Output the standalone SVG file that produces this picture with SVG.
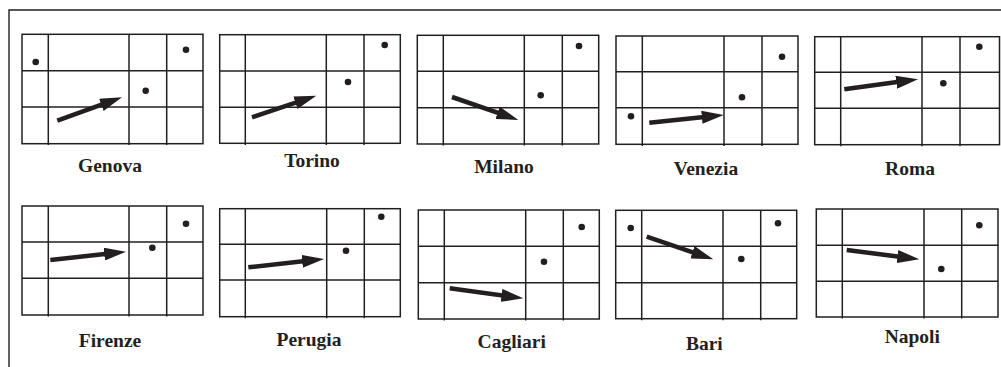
<svg xmlns="http://www.w3.org/2000/svg" width="1001" height="367" viewBox="0 0 1001 367">
<defs>
<style>
.frame{fill:none;stroke:#231f20;stroke-width:1.4}
.grid{fill:none;stroke:#231f20;stroke-width:1.5}
.dot{fill:#231f20}
.arr{fill:none;stroke:#231f20;stroke-width:4.5;marker-end:url(#head)}
.lbl{font-family:"Liberation Serif","Times New Roman",serif;font-weight:bold;font-size:19.5px;fill:#231f20;text-anchor:middle}
</style>
<marker id="head" viewBox="0 -6.5 22 13" refX="12" refY="0" markerWidth="22" markerHeight="13" markerUnits="userSpaceOnUse" orient="auto">
<path d="M0,-6.5 L22,0 L0,6.5 Z" fill="#231f20"/>
</marker>
</defs>
<rect width="1001" height="367" fill="#ffffff"/>
<path class="frame" d="M9,367 V10 H1001"/>

<g id="genova">
<rect class="grid" x="22" y="34.3" width="181" height="109.4"/>
<path class="grid" d="M48.3,34.3 V145 M129,34.3 V145 M166.7,34.3 V145 M22,70.7 H203 M22,107 H203"/>
<circle class="dot" cx="35.7" cy="62" r="3.3"/>
<circle class="dot" cx="186" cy="49.7" r="3.3"/>
<circle class="dot" cx="145.7" cy="90.7" r="3.3"/>
<text class="lbl" x="110" y="171.7">Genova</text>
</g>

<g id="torino">
<rect class="grid" x="219.7" y="34.7" width="180.6" height="108.6"/>
<path class="grid" d="M245.3,34.7 V145 M326.3,34.7 V145 M364,34.7 V145 M219.7,71 H400.3 M219.7,107.3 H400.3"/>
<circle class="dot" cx="384.7" cy="45" r="3.3"/>
<circle class="dot" cx="348" cy="82" r="3.3"/>
<text class="lbl" x="312" y="166.7">Torino</text>
</g>

<g id="milano">
<rect class="grid" x="417.3" y="35.3" width="181.4" height="108.7"/>
<path class="grid" d="M443.3,35.3 V145.5 M524.3,35.3 V145.5 M562.3,35.3 V145.5 M417.3,71.3 H598.7 M417.3,107.7 H598.7"/>
<circle class="dot" cx="579" cy="46" r="3.3"/>
<circle class="dot" cx="540.7" cy="95.3" r="3.3"/>
<text class="lbl" x="504" y="173.3">Milano</text>
</g>

<g id="venezia">
<rect class="grid" x="616" y="36" width="182" height="108.3"/>
<path class="grid" d="M642.3,36 V146 M724,36 V146 M762,36 V146 M616,71.7 H798 M616,107.7 H798"/>
<circle class="dot" cx="782" cy="56.7" r="3.3"/>
<circle class="dot" cx="742" cy="97.3" r="3.3"/>
<circle class="dot" cx="631" cy="116.3" r="3.3"/>
<text class="lbl" x="706" y="175">Venezia</text>
</g>

<g id="roma">
<rect class="grid" x="814.7" y="36.7" width="184.8" height="108"/>
<path class="grid" d="M840.7,36.7 V146.3 M922,36.7 V146.3 M960,36.7 V146.3 M814.7,72.3 H999.5 M814.7,108.3 H999.5"/>
<circle class="dot" cx="979.3" cy="46.7" r="3.3"/>
<circle class="dot" cx="943.3" cy="83.3" r="3.3"/>
<text class="lbl" x="910" y="175">Roma</text>
</g>

<g id="firenze">
<rect class="grid" x="22" y="206" width="181" height="109"/>
<path class="grid" d="M48.3,206 V316.5 M129,206 V316.5 M166.7,206 V316.5 M22,242 H203 M22,278.3 H203"/>
<circle class="dot" cx="186" cy="223.7" r="3.3"/>
<circle class="dot" cx="152.3" cy="247.7" r="3.3"/>
<text class="lbl" x="110" y="346.7">Firenze</text>
</g>

<g id="perugia">
<rect class="grid" x="219.7" y="208.7" width="180.6" height="108"/>
<path class="grid" d="M245.3,208.7 V318.3 M326.7,208.7 V318.3 M364.3,208.7 V318.3 M219.7,244.3 H400.3 M219.7,280 H400.3"/>
<circle class="dot" cx="381.3" cy="216.7" r="3.3"/>
<circle class="dot" cx="346" cy="250.7" r="3.3"/>
<text class="lbl" x="309" y="345.7">Perugia</text>
</g>

<g id="cagliari">
<rect class="grid" x="418.3" y="210" width="181" height="109"/>
<path class="grid" d="M444.3,210 V320.5 M525.7,210 V320.5 M563.3,210 V320.5 M418.3,246.3 H599.3 M418.3,282.7 H599.3"/>
<circle class="dot" cx="581.7" cy="227" r="3.3"/>
<circle class="dot" cx="544" cy="261.7" r="3.3"/>
<text class="lbl" x="511.7" y="348.3">Cagliari</text>
</g>

<g id="bari">
<rect class="grid" x="615.7" y="210.3" width="181" height="108.4"/>
<path class="grid" d="M641.7,210.3 V320.2 M723,210.3 V320.2 M760.7,210.3 V320.2 M615.7,246.3 H796.7 M615.7,282.7 H796.7"/>
<circle class="dot" cx="630.7" cy="228" r="3.3"/>
<circle class="dot" cx="778" cy="223.3" r="3.3"/>
<circle class="dot" cx="741.3" cy="259" r="3.3"/>
<text class="lbl" x="704.3" y="350">Bari</text>
</g>

<g id="napoli">
<rect class="grid" x="816.3" y="209" width="181.7" height="108"/>
<path class="grid" d="M842.3,209 V318.5 M924,209 V318.5 M961.7,209 V318.5 M816.3,245.3 H998 M816.3,281.3 H998"/>
<circle class="dot" cx="979.3" cy="225.3" r="3.3"/>
<circle class="dot" cx="941.3" cy="269" r="3.3"/>
<text class="lbl" x="912.3" y="343.3">Napoli</text>
</g>

<g id="connectors">
<path class="arr" d="M57.3,120.7 L112.6,100.7"/>
<path class="arr" d="M252,117.3 L306.8,98.9"/>
<path class="arr" d="M452,97 L508.9,116.7"/>
<path class="arr" d="M649.3,122.7 L713.8,116"/>
<path class="arr" d="M844.3,89.3 L908.1,80.6"/>
<path class="arr" d="M50.3,260 L116.1,252.8"/>
<path class="arr" d="M248.3,267.3 L314.1,260.1"/>
<path class="arr" d="M449.7,288.3 L513.4,297"/>
<path class="arr" d="M646.7,236.7 L703.8,256.1"/>
<path class="arr" d="M846.7,250 L909.4,258"/>
</g>
</svg>
